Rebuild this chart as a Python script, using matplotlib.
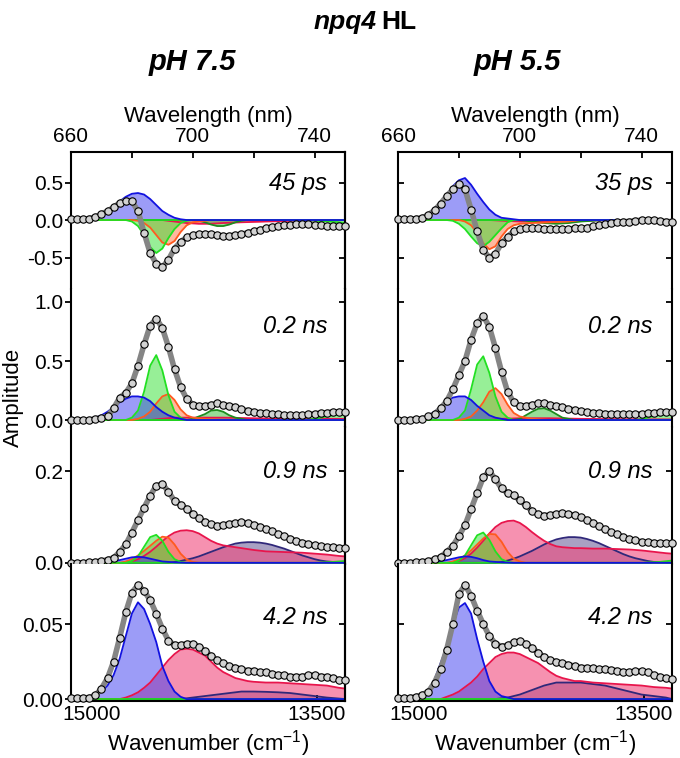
import matplotlib
matplotlib.use('Agg')
import matplotlib.pyplot as plt

plt.rcParams['font.family'] = ['Liberation Sans', 'DejaVu Sans']
plt.rcParams['mathtext.fontset'] = 'custom'
plt.rcParams['mathtext.rm'] = 'Liberation Sans'
plt.rcParams['mathtext.it'] = 'Liberation Sans:italic'

# wavelength grid of the measured points (nm)
wl = list(range(660, 751, 2))

# ---- measured spectra (pH 7.5 = a, pH 5.5 = b) ----
a1_data = [0.01, 0.01, 0.01, 0.02, 0.04, 0.08, 0.12, 0.17, 0.23, 0.26, 0.25, 0.12,
           -0.17, -0.44, -0.58, -0.63, -0.53, -0.38, -0.29, -0.23, -0.20, -0.19, -0.18, -0.19,
           -0.20, -0.21, -0.21, -0.20, -0.19, -0.17, -0.15, -0.13, -0.11, -0.09, -0.08, -0.07,
           -0.06, -0.05, -0.05, -0.05, -0.06, -0.07, -0.08, -0.08, -0.08, -0.08]
b1_data = [0.01, 0.01, 0.01, 0.02, 0.03, 0.07, 0.13, 0.22, 0.32, 0.41, 0.48, 0.41,
           0.14, -0.15, -0.40, -0.50, -0.45, -0.31, -0.22, -0.15, -0.12, -0.11, -0.10, -0.11,
           -0.12, -0.12, -0.12, -0.12, -0.12, -0.11, -0.11, -0.10, -0.08, -0.07, -0.05, -0.04,
           -0.03, -0.02, -0.02, -0.01, 0.0, 0.0, 0.0, -0.01, -0.02, -0.02]
a2_data = [0.0, 0.0, 0.0, 0.0, 0.01, 0.02, 0.03, 0.10, 0.19, 0.23, 0.31, 0.46,
           0.64, 0.80, 0.86, 0.78, 0.62, 0.43, 0.28, 0.18, 0.13, 0.12, 0.12, 0.13,
           0.14, 0.13, 0.12, 0.11, 0.09, 0.08, 0.07, 0.06, 0.06, 0.05, 0.05, 0.04,
           0.04, 0.04, 0.04, 0.05, 0.05, 0.06, 0.06, 0.07, 0.07, 0.07]
b2_data = [0.0, 0.0, 0.0, 0.01, 0.01, 0.03, 0.05, 0.10, 0.16, 0.26, 0.38, 0.50,
           0.68, 0.82, 0.88, 0.79, 0.61, 0.41, 0.24, 0.15, 0.12, 0.12, 0.13, 0.14,
           0.14, 0.13, 0.12, 0.11, 0.095, 0.085, 0.075, 0.07, 0.06, 0.056, 0.055, 0.052,
           0.05, 0.048, 0.048, 0.05, 0.052, 0.056, 0.06, 0.064, 0.067, 0.07]
a3_data = [0.0, 0.0, 0.0, 0.001, 0.002, 0.004, 0.007, 0.011, 0.024, 0.040, 0.066, 0.093,
           0.120, 0.146, 0.168, 0.172, 0.155, 0.135, 0.127, 0.118, 0.106, 0.097, 0.089, 0.084,
           0.081, 0.082, 0.085, 0.087, 0.088, 0.087, 0.083, 0.079, 0.074, 0.069, 0.063, 0.058,
           0.053, 0.048, 0.044, 0.041, 0.038, 0.036, 0.035, 0.034, 0.033, 0.033]
b3_data = [0.0, 0.0, 0.0, 0.001, 0.002, 0.004, 0.008, 0.013, 0.024, 0.037, 0.058, 0.082,
           0.117, 0.152, 0.186, 0.200, 0.182, 0.162, 0.152, 0.147, 0.136, 0.125, 0.113, 0.106,
           0.103, 0.104, 0.107, 0.108, 0.106, 0.104, 0.099, 0.094, 0.087, 0.080, 0.073, 0.067,
           0.062, 0.056, 0.052, 0.049, 0.046, 0.045, 0.044, 0.043, 0.043, 0.043]
a4_data = [0.0005, 0.0006, 0.0008, 0.001, 0.0025, 0.007, 0.014, 0.025, 0.041, 0.058, 0.071, 0.076,
           0.072, 0.066, 0.057, 0.047, 0.039, 0.036, 0.036, 0.037, 0.037, 0.035, 0.032, 0.029,
           0.026, 0.024, 0.022, 0.021, 0.020, 0.019, 0.019, 0.018, 0.018, 0.017, 0.016, 0.016,
           0.015, 0.015, 0.015, 0.016, 0.016, 0.015, 0.015, 0.014, 0.013, 0.0127]
b4_data = [0.0005, 0.0006, 0.001, 0.0015, 0.003, 0.005, 0.011, 0.020, 0.033, 0.050, 0.070, 0.076,
           0.069, 0.059, 0.050, 0.042, 0.037, 0.035, 0.036, 0.038, 0.0385, 0.037, 0.034, 0.031,
           0.028, 0.026, 0.025, 0.024, 0.023, 0.022, 0.021, 0.021, 0.0205, 0.020, 0.020, 0.0195,
           0.019, 0.018, 0.018, 0.0185, 0.0187, 0.018, 0.016, 0.015, 0.014, 0.0132]

# ---- fitted components, (wavelength, amplitude) ----
a1_blue = [(664, 0.01), (666, 0.02), (668, 0.04), (670, 0.07), (672, 0.12), (674, 0.18), (676, 0.25),
           (678, 0.31), (680, 0.35), (682, 0.36), (684, 0.34), (686, 0.28), (688, 0.20), (690, 0.12),
           (692, 0.07), (694, 0.03), (696, 0.01), (698, 0.0)]
a1_green = [(678, 0.0), (680, -0.02), (682, -0.08), (684, -0.20), (686, -0.36), (688, -0.44), (690, -0.38),
            (692, -0.24), (694, -0.12), (696, -0.04), (698, -0.01), (700, 0.0)]
a1_orange = [(680, 0.0), (682, -0.01), (684, -0.04), (686, -0.10), (688, -0.20), (690, -0.30), (692, -0.33),
             (694, -0.28), (696, -0.16), (698, -0.07), (700, -0.03), (702, -0.02), (704, -0.01), (706, 0.0)]
a1_dkgreen = [(700, 0.0), (702, -0.01), (704, -0.03), (706, -0.06), (708, -0.08), (710, -0.08), (712, -0.06),
              (714, -0.03), (716, -0.01), (718, 0.0)]
a1_tail = [(736, 0.0), (740, -0.01), (744, -0.02), (748, -0.03), (750, -0.04)]
a1_pink = [(690, 0.0), (694, -0.02), (698, -0.04), (702, -0.05), (706, -0.05), (710, -0.04), (716, -0.03),
           (724, -0.02), (734, -0.01), (750, 0.0)]

b1_blue = [(664, 0.01), (666, 0.02), (668, 0.04), (670, 0.08), (672, 0.14), (674, 0.22), (676, 0.33),
           (678, 0.45), (680, 0.53), (682, 0.56), (684, 0.47), (686, 0.35), (688, 0.24), (690, 0.14),
           (692, 0.07), (694, 0.03), (696, 0.02), (698, 0.01), (700, 0.0)]
b1_green = [(676, 0.0), (678, -0.01), (680, -0.05), (682, -0.12), (684, -0.22), (686, -0.31), (688, -0.35),
            (690, -0.29), (692, -0.20), (694, -0.11), (696, -0.03), (698, 0.0)]
b1_orange = [(680, 0.0), (682, -0.02), (684, -0.07), (686, -0.17), (688, -0.31), (690, -0.39), (692, -0.35),
             (694, -0.22), (696, -0.12), (698, -0.07), (700, -0.05), (704, -0.04), (710, -0.03),
             (716, -0.02), (720, 0.0)]
b1_dkgreen = [(700, 0.0), (704, -0.02), (708, -0.04), (712, -0.05), (716, -0.04), (720, -0.02),
              (724, -0.01), (728, 0.0)]
b1_tail = [(740, 0.0), (744, -0.01), (750, -0.02)]
b1_pink = [(690, 0.0), (700, -0.02), (710, -0.02), (720, -0.01), (730, 0.0)]

a2_blue = [(664, 0.0), (666, 0.01), (668, 0.02), (670, 0.04), (672, 0.07), (674, 0.11), (676, 0.15),
           (678, 0.18), (680, 0.20), (682, 0.20), (684, 0.19), (686, 0.16), (688, 0.11), (690, 0.07),
           (692, 0.04), (694, 0.02), (696, 0.01), (698, 0.0)]
a2_green = [(678, 0.0), (680, 0.02), (682, 0.08), (684, 0.24), (686, 0.46), (688, 0.55), (690, 0.42),
            (692, 0.21), (694, 0.07), (696, 0.02), (698, 0.0)]
a2_orange = [(680, 0.0), (682, 0.01), (684, 0.03), (686, 0.07), (688, 0.14), (690, 0.20), (692, 0.22),
             (694, 0.17), (696, 0.09), (698, 0.04), (700, 0.02), (704, 0.01), (710, 0.0)]
a2_dkgreen = [(698, 0.0), (700, 0.01), (702, 0.03), (704, 0.05), (706, 0.08), (708, 0.085), (710, 0.07),
              (712, 0.04), (714, 0.02), (716, 0.01), (718, 0.0)]
a2_tail = [(736, 0.0), (740, 0.01), (744, 0.03), (748, 0.05), (750, 0.06)]
a2_pink = [(686, 0.0), (690, 0.01), (694, 0.02), (700, 0.02), (710, 0.02), (720, 0.015), (730, 0.01),
           (740, 0.01), (750, 0.01)]

b2_blue = [(664, 0.0), (666, 0.01), (668, 0.02), (670, 0.04), (672, 0.07), (674, 0.11), (676, 0.16),
           (678, 0.19), (680, 0.20), (682, 0.20), (684, 0.17), (686, 0.12), (688, 0.08), (690, 0.04),
           (692, 0.02), (694, 0.01), (696, 0.0)]
b2_green = [(678, 0.0), (680, 0.02), (682, 0.08), (684, 0.26), (686, 0.47), (688, 0.54), (690, 0.40),
            (692, 0.20), (694, 0.07), (696, 0.02), (698, 0.0)]
b2_orange = [(680, 0.0), (682, 0.01), (684, 0.03), (686, 0.08), (688, 0.15), (690, 0.24), (692, 0.27),
             (694, 0.22), (696, 0.13), (698, 0.06), (700, 0.03), (704, 0.01), (710, 0.0)]
b2_dkgreen = [(698, 0.0), (700, 0.01), (702, 0.04), (704, 0.07), (706, 0.095), (708, 0.10), (710, 0.08),
              (712, 0.05), (714, 0.02), (716, 0.01), (718, 0.0)]
b2_tail = [(738, 0.0), (742, 0.02), (746, 0.045), (750, 0.07)]
b2_pink = [(690, 0.0), (694, 0.01), (700, 0.015), (710, 0.015), (720, 0.01), (730, 0.008), (750, 0.005)]

a3_blue = [(668, 0.0), (672, 0.002), (676, 0.006), (678, 0.009), (680, 0.012), (682, 0.013), (684, 0.012),
           (686, 0.009), (688, 0.006), (690, 0.003), (694, 0.001), (698, 0.0)]
a3_green = [(678, 0.0), (680, 0.004), (682, 0.014), (684, 0.035), (686, 0.056), (688, 0.061), (690, 0.048),
            (692, 0.024), (694, 0.008), (696, 0.002), (698, 0.0)]
a3_orange = [(676, 0.0), (678, 0.003), (680, 0.008), (682, 0.016), (684, 0.026), (686, 0.037), (688, 0.048),
             (690, 0.057), (692, 0.055), (694, 0.040), (696, 0.020), (698, 0.007), (700, 0.002), (702, 0.0)]
a3_pink = [(678, 0.0), (680, 0.003), (682, 0.008), (684, 0.015), (686, 0.024), (688, 0.035), (690, 0.047),
           (692, 0.058), (694, 0.066), (696, 0.070), (698, 0.071), (700, 0.069), (702, 0.064), (704, 0.056),
           (706, 0.048), (708, 0.042), (710, 0.038), (712, 0.036), (714, 0.034), (716, 0.032), (718, 0.030),
           (720, 0.028), (724, 0.025), (728, 0.024), (732, 0.023), (736, 0.022), (740, 0.020), (744, 0.018),
           (748, 0.015), (750, 0.014)]
a3_navy = [(692, 0.0), (694, 0.002), (696, 0.004), (698, 0.007), (700, 0.010), (702, 0.014), (704, 0.019),
           (706, 0.024), (708, 0.029), (710, 0.034), (712, 0.038), (714, 0.042), (716, 0.044), (718, 0.045),
           (720, 0.045), (722, 0.044), (724, 0.042), (726, 0.039), (728, 0.035), (730, 0.031), (732, 0.026),
           (734, 0.021), (736, 0.016), (738, 0.012), (740, 0.008), (742, 0.005), (744, 0.003), (748, 0.001),
           (750, 0.0)]
a3_tail = [(740, 0.0), (746, 0.002), (750, 0.004)]

b3_blue = [(668, 0.0), (672, 0.002), (676, 0.006), (678, 0.009), (680, 0.012), (682, 0.014), (684, 0.013),
           (686, 0.010), (688, 0.006), (690, 0.003), (694, 0.001), (698, 0.0)]
b3_green = [(678, 0.0), (680, 0.005), (682, 0.016), (684, 0.038), (686, 0.060), (688, 0.066), (690, 0.050),
            (692, 0.025), (694, 0.008), (696, 0.002), (698, 0.0)]
b3_orange = [(676, 0.0), (678, 0.003), (680, 0.008), (682, 0.016), (684, 0.027), (686, 0.040), (688, 0.053),
             (690, 0.063), (692, 0.062), (694, 0.046), (696, 0.024), (698, 0.009), (700, 0.003), (702, 0.0)]
b3_pink = [(678, 0.0), (680, 0.004), (682, 0.010), (684, 0.020), (686, 0.033), (688, 0.048), (690, 0.064),
           (692, 0.078), (694, 0.087), (696, 0.091), (698, 0.092), (700, 0.087), (702, 0.078), (704, 0.067),
           (706, 0.057), (708, 0.048), (710, 0.041), (712, 0.036), (714, 0.034), (716, 0.033), (718, 0.032),
           (720, 0.032), (724, 0.031), (728, 0.031), (732, 0.030), (736, 0.029), (740, 0.027), (744, 0.024),
           (748, 0.021), (750, 0.020)]
b3_navy = [(692, 0.0), (694, 0.002), (696, 0.005), (698, 0.009), (700, 0.014), (702, 0.020), (704, 0.026),
           (706, 0.033), (708, 0.040), (710, 0.046), (712, 0.051), (714, 0.054), (716, 0.056), (718, 0.056),
           (720, 0.055), (722, 0.052), (724, 0.048), (726, 0.043), (728, 0.037), (730, 0.031), (732, 0.025),
           (734, 0.019), (736, 0.014), (738, 0.010), (740, 0.007), (742, 0.004), (744, 0.002), (748, 0.001),
           (750, 0.0)]
b3_tail = [(740, 0.0), (746, 0.002), (750, 0.005)]

a4_blue = [(666, 0.001), (668, 0.002), (670, 0.005), (672, 0.009), (674, 0.016), (676, 0.027), (678, 0.042),
           (680, 0.057), (682, 0.0645), (684, 0.060), (686, 0.050), (688, 0.038), (690, 0.022), (692, 0.012),
           (694, 0.005), (696, 0.0015), (698, 0.0)]
a4_pink = [(676, 0.0), (678, 0.001), (680, 0.0025), (682, 0.0045), (684, 0.0075), (686, 0.011), (688, 0.016),
           (690, 0.021), (692, 0.026), (694, 0.030), (696, 0.033), (698, 0.0335), (700, 0.033), (702, 0.031),
           (704, 0.029), (706, 0.025), (708, 0.021), (710, 0.018), (712, 0.016), (714, 0.014), (716, 0.013),
           (718, 0.012), (720, 0.0115), (724, 0.011), (728, 0.011), (732, 0.0105), (736, 0.010),
           (740, 0.0095), (744, 0.009), (748, 0.0075), (750, 0.007)]
a4_navy = [(696, 0.0), (700, 0.001), (704, 0.002), (708, 0.003), (712, 0.004), (716, 0.005), (720, 0.005),
           (724, 0.0048), (728, 0.0045), (732, 0.004), (736, 0.003), (740, 0.002), (744, 0.001), (750, 0.0)]

b4_blue = [(666, 0.001), (668, 0.002), (670, 0.006), (672, 0.013), (674, 0.024), (676, 0.035), (678, 0.050),
           (680, 0.061), (682, 0.064), (684, 0.057), (686, 0.040), (688, 0.025), (690, 0.012), (692, 0.005),
           (694, 0.002), (696, 0.001), (698, 0.0)]
b4_pink = [(674, 0.0), (676, 0.0015), (678, 0.003), (680, 0.005), (682, 0.008), (684, 0.011), (686, 0.015),
           (688, 0.020), (690, 0.024), (692, 0.028), (694, 0.030), (696, 0.031), (698, 0.031), (700, 0.030),
           (702, 0.028), (704, 0.026), (706, 0.024), (708, 0.021), (710, 0.018), (712, 0.0155), (714, 0.014),
           (716, 0.013), (718, 0.012), (720, 0.012), (724, 0.011), (728, 0.0105), (732, 0.010),
           (736, 0.0095), (740, 0.009), (744, 0.008), (748, 0.0075), (750, 0.007)]
b4_navy = [(692, 0.0), (696, 0.001), (700, 0.003), (704, 0.006), (708, 0.009), (712, 0.011), (716, 0.011),
           (720, 0.011), (724, 0.010), (728, 0.009), (732, 0.007), (736, 0.005), (740, 0.003), (744, 0.002),
           (748, 0.001), (750, 0.0)]

flat = [(660, 0.0), (750, 0.0)]

# colours: (line, fill, fill alpha)
styles = {
    'navy': ('#30287a', '#40307a', 0.45),
    'pink': ('#e8154c', '#f0487c', 0.6),
    'dkgreen': ('#1e8c1e', '#30c030', 0.5),
    'tail': ('#22d822', '#30e030', 0.5),
    'orange': ('#ff5a1f', '#ff7040', 0.5),
    'green': ('#22e022', '#30e030', 0.5),
    'blue': ('#1212e0', '#3a3af0', 0.5),
}
order = ['navy', 'pink', 'dkgreen', 'tail', 'orange', 'green', 'blue']

panels_a = [
    (a1_data, {'pink': a1_pink, 'dkgreen': a1_dkgreen, 'tail': a1_tail, 'orange': a1_orange,
               'green': a1_green, 'blue': a1_blue}, '45 ps'),
    (a2_data, {'pink': a2_pink, 'dkgreen': a2_dkgreen, 'tail': a2_tail, 'orange': a2_orange,
               'green': a2_green, 'blue': a2_blue}, '0.2 ns'),
    (a3_data, {'navy': a3_navy, 'pink': a3_pink, 'tail': a3_tail, 'orange': a3_orange,
               'green': a3_green, 'blue': a3_blue}, '0.9 ns'),
    (a4_data, {'navy': a4_navy, 'pink': a4_pink, 'green': flat, 'blue': a4_blue}, '4.2 ns'),
]
panels_b = [
    (b1_data, {'pink': b1_pink, 'dkgreen': b1_dkgreen, 'tail': b1_tail, 'orange': b1_orange,
               'green': b1_green, 'blue': b1_blue}, '35 ps'),
    (b2_data, {'pink': b2_pink, 'dkgreen': b2_dkgreen, 'tail': b2_tail, 'orange': b2_orange,
               'green': b2_green, 'blue': b2_blue}, '0.2 ns'),
    (b3_data, {'navy': b3_navy, 'pink': b3_pink, 'tail': b3_tail, 'orange': b3_orange,
               'green': b3_green, 'blue': b3_blue}, '0.9 ns'),
    (b4_data, {'navy': b4_navy, 'pink': b4_pink, 'green': flat, 'blue': b4_blue}, '4.2 ns'),
]

ylims = [(-0.923, 0.907), (-0.055, 1.108), (-0.002, 0.297), (-0.0013, 0.0902)]
yticks = [[-0.5, 0.0, 0.5], [0.0, 0.5, 1.0], [0.0, 0.2], [0.0, 0.05]]
ylabels = [['-0.5', '0.0', '0.5'], ['0.0', '0.5', '1.0'], ['0.0', '0.2'], ['0.00', '0.05']]
label_y = [0.774, 0.725, 0.67, 0.612]


def band(pts):
    x = [p[0] for p in pts]
    y = [p[1] for p in pts]
    if x[0] > 660:
        x = [660] + x
        y = [0.0] + y
    if x[-1] < 750:
        x = x + [750]
        y = y + [0.0]
    return x, y


W, H = 680, 758
fig = plt.figure(figsize=(6.8, 7.58), dpi=100)

col_x = [71, 398]
ax_w = 274
row_top = [152, 289.25, 426.5, 563.75]
row_h = 137.25
tick_fs = 15

for c, panels in enumerate([panels_a, panels_b]):
    for r, (data, comps, lab) in enumerate(panels):
        ax = fig.add_axes([col_x[c] / W, 1 - (row_top[r] + row_h) / H, ax_w / W, row_h / H])
        for name in order:
            if name not in comps:
                continue
            lc, fc, al = styles[name]
            x, y = band(comps[name])
            ax.fill_between(x, 0, y, color=fc, alpha=al, lw=0)
            ax.plot(x, y, color=lc, lw=1.3)
        ax.plot(wl, data, color='#858585', lw=4, solid_capstyle='round', zorder=4)
        ax.plot(wl, data, 'o', ms=5.3, mfc='#d2d2d2', mec='black', mew=0.8, zorder=5, clip_on=False)

        ax.set_xlim(660, 750)
        ax.set_ylim(*ylims[r])
        for s in ax.spines.values():
            s.set_linewidth(1.5)
        if r > 0:
            ax.spines['top'].set_visible(False)
        if r < 3:
            ax.spines['bottom'].set_visible(False)

        ax.set_yticks(yticks[r])
        if c == 0:
            ax.set_yticklabels(ylabels[r], fontsize=tick_fs)
            ax.tick_params(axis='y', direction='out', length=4.5, width=1.3, pad=1)
            sec = ax.secondary_yaxis('right')
            sec.set_yticks(yticks[r])
            sec.tick_params(direction='in', length=4.5, width=1.3, labelright=False)
            sec.spines['right'].set_linewidth(1.5)
        else:
            ax.set_yticklabels([])
            ax.tick_params(axis='y', direction='in', left=True, right=True, length=4.5, width=1.3)

        if r == 0:
            ax.xaxis.set_ticks_position('top')
            ax.xaxis.set_label_position('top')
            ax.set_xticks([660, 680, 700, 720, 740])
            ax.set_xticklabels(['660', '', '700', '', '740'], fontsize=tick_fs)
            ax.tick_params(axis='x', direction='in', length=4.5, width=1.3, pad=4)
            ax.set_xlabel('Wavelength (nm)', fontsize=16, labelpad=4)
        elif r == 3:
            ax.set_xticks([1e7 / 15000, 1e7 / 13500])
            ax.set_xticklabels(['15000', '13500'], fontsize=tick_fs)
            ax.tick_params(axis='x', direction='in', length=4.5, width=1.3, pad=3)
            ax.set_xlabel('Wavenumber (cm$^{-1}$)', fontsize=16, labelpad=3)
        else:
            ax.set_xticks([])

        ax.text(0.935 if c == 0 else 0.93, label_y[r], lab, transform=ax.transAxes,
                ha='right', va='center', fontsize=17, style='italic')

fig.text(377 / W, 1 - 22 / H, 'npq4', ha='right', va='center', fontsize=19,
         fontweight='bold', style='italic')
fig.text(381 / W, 1 - 22 / H, 'HL', ha='left', va='center', fontsize=19, fontweight='bold')
fig.text(192 / W, 1 - 62 / H, 'pH 7.5', ha='center', va='center', fontsize=21,
         fontweight='bold', style='italic')
fig.text(517 / W, 1 - 62 / H, 'pH 5.5', ha='center', va='center', fontsize=21,
         fontweight='bold', style='italic')
fig.text(13 / W, 1 - 397 / H, 'Amplitude', ha='center', va='center', rotation=90, fontsize=16)

fig.savefig('out.png', dpi=100)
